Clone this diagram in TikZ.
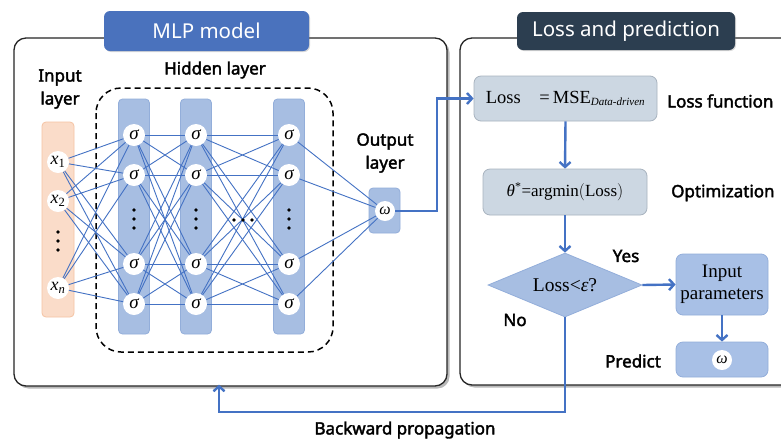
\documentclass[tikz,border=0pt]{standalone}
\usepackage{fontspec}
\setmainfont{Liberation Serif}
\newfontfamily\sansf{Noto Sans}
\newfontfamily\sansbf{Noto Sans}[FakeBold=2.2]
\usetikzlibrary{shapes.geometric,shadows,arrows.meta}
\definecolor{mlpblue}{HTML}{4A72BD}
\definecolor{navy}{HTML}{2C3E50}
\definecolor{colfill}{HTML}{A7BEE2}
\definecolor{colborder}{HTML}{93AEDA}
\definecolor{linkblue}{HTML}{4472C4}
\definecolor{orfill}{HTML}{FADCC9}
\definecolor{orborder}{HTML}{F5C3A3}
\definecolor{grayfill}{HTML}{CCD7E2}
\definecolor{grayborder}{HTML}{A8B3BF}
\definecolor{boxblue}{HTML}{A8C0E6}
\begin{document}
\begin{tikzpicture}[x=1pt,y=-1pt,
  lab/.style={font=\sansbf\fontsize{17}{23}\selectfont, align=center, inner sep=0pt},
  neuron/.style={circle, fill=white, inner sep=0pt, minimum size=22pt, font=\fontsize{19}{19}\selectfont\itshape},
  colbox/.style={fill=colfill, draw=colborder, line width=0.8pt, rounded corners=4pt, minimum width=31pt, inner sep=0pt},
  link/.style={draw=linkblue, line width=0.9pt},
  flow/.style={draw=linkblue, line width=2.4pt, -{Straight Barb[length=5pt,width=11pt]}},
  panel/.style={draw=black!85, line width=1.3pt, fill=white, rounded corners=12pt,
    drop shadow={shadow xshift=2.5pt, shadow yshift=-2.5pt, opacity=0.55}},
  tab/.style={rounded corners=6pt, text=white, font=\sansf\fontsize{20.5}{21}\selectfont, inner sep=0pt,
    drop shadow={shadow xshift=1pt, shadow yshift=-1pt, opacity=0.3}},
  fbox/.style={rounded corners=7pt, line width=0.8pt, inner sep=2pt, font=\fontsize{18.5}{21}\selectfont, align=center},
  vdot/.style={circle, fill=black, inner sep=0pt, minimum size=3.8pt}
]
\useasboundingbox (0,0) rectangle (781,440);
\clip (0,0) rectangle (781,440);
\fill[white] (0,0) rectangle (781,440);

% panels
\node[panel, minimum width=433pt, minimum height=348pt] (lp) at (230.5,212) {};
\node[panel, minimum width=340pt, minimum height=347pt] (rp) at (630,211.5) {};
\node[tab, fill=mlpblue, minimum width=205pt, minimum height=40pt] (mlptab) at (206.5,31) {MLP model};
\node[tab, fill=navy, minimum width=218pt, minimum height=38pt] (losstab) at (626,31) {Loss and prediction};

% labels
\node[lab] (inlab) at (60,89) {Input\\layer};
\node[lab] (hidlab) at (215,70) {Hidden layer};
\node[lab] (outlab) at (385,153) {Output\\layer};

% dashed hidden box
\draw[dashed, dash pattern=on 6pt off 4pt, line width=1.5pt, rounded corners=25pt] (96,88) rectangle (333,352);

% columns
\node[fill=orfill, draw=orborder, line width=0.8pt, rounded corners=4pt, minimum width=32pt, minimum height=195pt, inner sep=0pt] (incol) at (58,219.5) {};
\node[colbox, minimum height=235pt] (c1) at (134,216.5) {};
\node[colbox, minimum height=235pt] (c2) at (196,216.5) {};
\node[colbox, minimum height=235pt] (c3) at (289,216.5) {};
\node[colbox, minimum height=45pt] (outcol) at (384.5,210.5) {};

% input neurons
\node[neuron, font=\fontsize{18}{18}\selectfont\itshape] (x1) at (58,162) {x\textsubscript{\upshape 1}};
\node[neuron, font=\fontsize{18}{18}\selectfont\itshape] (x2) at (58,201) {x\textsubscript{\upshape 2}};
\node[neuron, font=\fontsize{18}{18}\selectfont\itshape] (xn) at (58,288) {x\textsubscript{n}};

% hidden neurons
\foreach \c/\xx in {1/134,2/196,3/289}{
  \foreach \r/\yy in {1/135,2/175,3/264,4/304}{
    \node[neuron] (h\c\r) at (\xx,\yy) {σ};
  }
}

% output neuron
\node[neuron, minimum size=20pt, font=\fontsize{16}{16}\selectfont\itshape] (om) at (385,211) {ω};

% links
\foreach \i in {x1,x2,xn}{
  \foreach \r in {1,2,3,4}{ \draw[link] (\i) -- (h1\r); }
}
\foreach \a in {1,2,3,4}{
  \foreach \b in {1,2,3,4}{
    \draw[link] (h1\a) -- (h2\b);
    \draw[link] (h2\a) -- (h3\b);
  }
  \draw[link] (h3\a) -- (om);
}

% ellipsis dots
\foreach \yy [count=\k] in {232,241,250} \node[vdot] (din\k) at (58,\yy) {};
\foreach \c/\xx in {1/134,2/196,3/289}{
  \foreach \yy [count=\k] in {210,219,228} \node[vdot] (dh\c\k) at (\xx,\yy) {};
}
\foreach \xx [count=\k] in {234,243,252} \node[vdot] (hd\k) at (\xx,220) {};

% right side flowchart
\node[fbox, fill=grayfill, draw=grayborder, minimum width=183pt, minimum height=45pt] (lossbox) at (565.5,98.5)
  {Loss\quad=\,MSE\textsubscript{\itshape\fontsize{11}{11}\selectfont Data-driven}};
\node[fbox, fill=grayfill, draw=grayborder, minimum width=164pt, minimum height=46pt, font=\fontsize{17}{19}\selectfont] (optbox) at (565,192)
  {{\itshape θ}\textsuperscript{*}=argmin$\bigl($Loss$\bigr)$};
\node[diamond, aspect=2.4, fill=colfill, draw=colborder, line width=0.8pt, minimum width=154pt, minimum height=64pt, inner sep=0pt, font=\fontsize{19.5}{21}\selectfont] (dia) at (565,285) {Loss<{\itshape ε}?};
\node[fbox, fill=boxblue, draw=colborder, minimum width=92pt, minimum height=61pt, font=\fontsize{19}{22}\selectfont] (parbox) at (722,284.5) {Input\\parameters};
\node[fbox, fill=boxblue, draw=colborder, minimum width=92pt, minimum height=35pt] (predbox) at (722,359.5) {};
\node[neuron, minimum size=20pt, font=\fontsize{16}{16}\selectfont\itshape] (predom) at (722,360) {ω};

\node[lab, anchor=west] (lflab) at (667,101) {Loss function};
\node[lab, anchor=west] (optlab) at (671,193) {Optimization};
\node[lab] (yeslab) at (626,256) {Yes};
\node[lab] (nolab) at (515,320) {No};
\node[lab] (predlab) at (633,361) {Predict};
\node[lab] (backlab) at (405,430) {Backward propagation};

% flow arrows
\coordinate (bend1) at (437,0);
\draw[flow] (om.east) -- (om.east -| bend1) -- (bend1 |- lossbox.west) -- (lossbox.west);
\draw[flow] (lossbox.south) -- (optbox.north);
\draw[flow] (optbox.south) -- (dia.north);
\draw[flow] (dia.east) -- (parbox.west);
\draw[flow] (parbox.south) -- (predbox.north);
\coordinate (back) at (219,412);
\draw[flow] (dia.south) -- (dia.south |- back) -- (back) -- ([yshift=2pt]back |- lp.south);
\end{tikzpicture}
\end{document}
